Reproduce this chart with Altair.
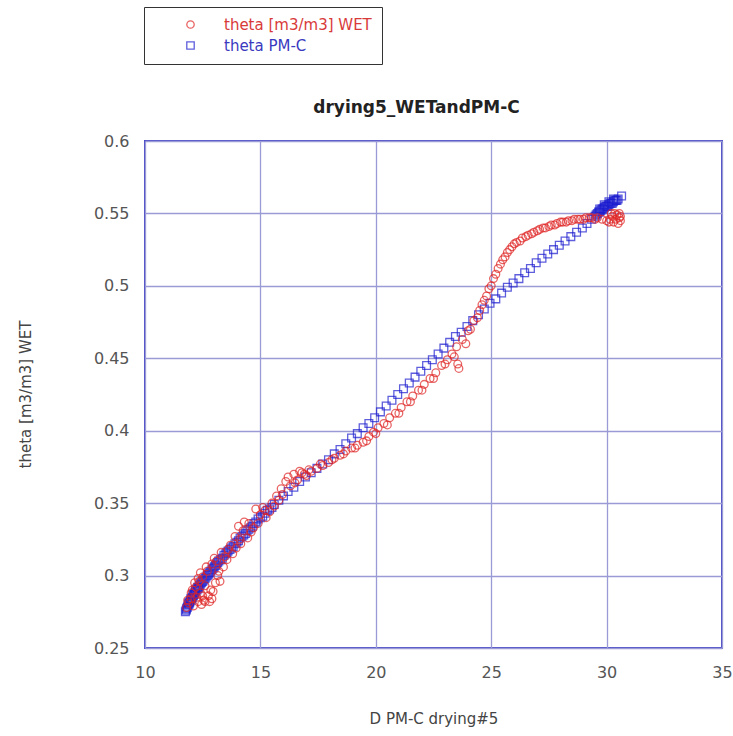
import altair as alt
import pandas as pd

series_names = ["theta [m3/m3] WET", "theta PM-C"]
x_ticks = [10, 15, 20, 25, 30, 35]
y_ticks = [0.25, 0.3, 0.35, 0.4, 0.45, 0.5, 0.55, 0.6]

# theta [m3/m3] WET (red circles)
wet_x = [11.8, 11.9, 12.0, 12.05, 12.1, 12.2, 12.25, 12.3, 12.35, 12.4, 12.45, 12.5,
         12.55, 12.6, 12.7, 12.75, 12.8, 12.9, 12.95, 13.0, 13.05, 13.15, 13.3, 13.4,
         13.55, 13.7, 13.8, 13.95, 14.05, 14.15, 14.3, 14.45, 14.6, 14.8, 14.9, 15.1,
         15.25, 15.4, 15.6, 15.8, 15.95, 16.1, 16.3, 16.45, 16.6, 16.8, 17.0, 17.2,
         17.45, 17.7, 17.95, 18.2, 18.45, 18.7, 18.95, 19.2, 19.45, 19.7, 19.9, 20.1,
         20.35, 20.6, 20.85, 21.1, 21.35, 21.6, 21.85, 22.1, 22.35, 22.6, 22.85, 23.1,
         23.3, 23.55, 23.5, 23.75, 24.0, 24.25, 24.5, 24.7, 24.9, 25.1, 25.3, 25.5,
         25.7, 25.9, 26.1, 26.35, 26.6, 26.85, 27.1, 27.35, 27.6, 27.85, 28.1, 28.35,
         28.6, 28.85, 29.1, 29.35, 29.6, 29.8, 30.0, 30.15, 30.25, 30.35, 30.45, 30.55,
         30.6, 30.5, 30.3,
         11.85, 12.0, 12.15, 12.3, 12.4, 12.5, 12.6, 12.65, 12.85, 12.9, 13.1, 13.2,
         13.25, 13.45, 13.6, 13.9, 14.1, 14.25, 14.5, 14.7, 15.0, 15.2, 15.5, 15.7,
         15.9, 16.2, 16.5, 16.7, 16.9, 17.1, 17.6, 18.1, 18.6, 19.1, 19.6, 20.0,
         20.5, 21.0, 21.5, 22.0, 22.5, 23.0, 23.4, 23.6, 23.9, 24.1, 24.4, 24.6,
         24.8, 25.0, 25.2, 25.4, 25.6, 25.8, 26.0, 26.25, 26.5, 26.75, 27.0, 27.25,
         27.5, 27.75, 28.0, 28.25, 28.5, 28.75, 29.0, 29.25, 29.5, 30.1, 30.2, 30.4,
         30.55, 30.6]
wet_y = [0.278, 0.281, 0.284, 0.290, 0.279, 0.292, 0.285, 0.282, 0.296, 0.288, 0.280, 0.299,
         0.283, 0.293, 0.303, 0.286, 0.282, 0.308, 0.289, 0.312, 0.295, 0.300, 0.316, 0.306,
         0.311, 0.321, 0.315, 0.319, 0.334, 0.322, 0.337, 0.326, 0.330, 0.346, 0.336, 0.347,
         0.340, 0.344, 0.348, 0.352, 0.356, 0.365, 0.362, 0.370, 0.366, 0.371, 0.369, 0.372,
         0.374, 0.376, 0.378, 0.381, 0.383, 0.386, 0.388, 0.390, 0.392, 0.396, 0.399, 0.402,
         0.405, 0.409, 0.412, 0.416, 0.420, 0.424, 0.428, 0.432, 0.436, 0.440, 0.445, 0.449,
         0.453, 0.446, 0.458, 0.463, 0.469, 0.476, 0.483, 0.490, 0.498, 0.505, 0.512, 0.518,
         0.523, 0.527, 0.530, 0.533, 0.535, 0.537, 0.539, 0.540, 0.542, 0.543, 0.544, 0.545,
         0.546, 0.546, 0.547, 0.547, 0.547, 0.546, 0.545, 0.546, 0.548, 0.550, 0.549, 0.547,
         0.545, 0.543, 0.544,
         0.283, 0.288, 0.295, 0.298, 0.302, 0.286, 0.282, 0.306, 0.290, 0.284, 0.310, 0.303,
         0.296, 0.313, 0.318, 0.327, 0.325, 0.331, 0.336, 0.333, 0.342, 0.345, 0.350, 0.355,
         0.360, 0.368, 0.364, 0.372, 0.370, 0.373, 0.377, 0.380, 0.384, 0.388, 0.393, 0.398,
         0.404, 0.412, 0.420, 0.428, 0.436, 0.446, 0.451, 0.443, 0.460, 0.470, 0.478, 0.487,
         0.493, 0.500, 0.508, 0.515, 0.520, 0.525, 0.529, 0.531, 0.534, 0.536, 0.538, 0.540,
         0.541, 0.542, 0.544, 0.544, 0.545, 0.546, 0.546, 0.547, 0.546, 0.544, 0.550, 0.546,
         0.550, 0.548]

# theta PM-C (blue squares)
pmc_x = [11.75, 11.8, 11.85, 11.9, 11.95, 12.0, 12.05, 12.1, 12.15, 12.2, 12.3, 12.35,
         12.4, 12.5, 12.6, 12.7, 12.8, 12.9, 13.0, 13.1, 13.2, 13.35, 13.5, 13.6,
         13.75, 13.9, 14.05, 14.2, 14.35, 14.5, 14.65, 14.8, 15.0, 15.2, 15.4, 15.6,
         15.8, 16.0, 16.2, 16.45, 16.7, 16.95, 17.2, 17.45, 17.7, 17.95, 18.2, 18.45,
         18.7, 18.95, 19.2, 19.45, 19.7, 19.95, 20.2, 20.45, 20.7, 20.95, 21.2, 21.45,
         21.7, 21.95, 22.2, 22.45, 22.7, 22.95, 23.2, 23.45, 23.7, 23.95, 24.2, 24.45,
         24.7, 24.95, 25.2, 25.45, 25.7, 25.95, 26.2, 26.45, 26.7, 26.95, 27.2, 27.45,
         27.7, 27.95, 28.2, 28.45, 28.7, 28.95, 29.15, 29.35, 29.5, 29.6, 29.7, 29.8,
         29.9, 30.0, 30.1, 30.2, 30.3, 30.4, 30.5, 30.65,
         11.78, 11.83, 11.88, 11.93, 11.98, 12.03, 12.08, 12.13, 12.18, 12.25, 12.28, 12.33,
         12.45, 12.55, 12.65, 12.75, 12.85, 12.95, 13.05, 13.15, 13.28, 13.42, 13.55, 13.68,
         13.82, 13.98, 14.12, 14.28, 14.42, 14.58, 14.72, 14.9, 15.1, 15.3, 15.5,
         29.55, 29.65, 29.75, 29.85, 29.95, 30.05, 30.15, 30.25, 30.35, 30.45, 29.7, 29.9,
         30.1, 30.3]
pmc_y = [0.275, 0.277, 0.279, 0.280, 0.282, 0.283, 0.285, 0.286, 0.288, 0.289, 0.291, 0.293,
         0.294, 0.296, 0.298, 0.300, 0.302, 0.304, 0.306, 0.308, 0.310, 0.312, 0.315, 0.317,
         0.319, 0.322, 0.324, 0.327, 0.329, 0.332, 0.334, 0.337, 0.340, 0.343, 0.346, 0.349,
         0.352, 0.355, 0.358, 0.361, 0.365, 0.368, 0.371, 0.374, 0.377, 0.380, 0.384, 0.387,
         0.391, 0.395, 0.398, 0.402, 0.405, 0.409, 0.413, 0.417, 0.421, 0.425, 0.429, 0.433,
         0.437, 0.441, 0.445, 0.449, 0.453, 0.457, 0.461, 0.465, 0.468, 0.472, 0.476, 0.480,
         0.484, 0.488, 0.491, 0.495, 0.499, 0.502, 0.505, 0.509, 0.512, 0.516, 0.519, 0.522,
         0.525, 0.528, 0.531, 0.534, 0.537, 0.540, 0.543, 0.546, 0.548, 0.550, 0.551, 0.553,
         0.554, 0.555, 0.556, 0.557, 0.558, 0.559, 0.560, 0.562,
         0.276, 0.278, 0.281, 0.281, 0.284, 0.284, 0.287, 0.287, 0.290, 0.290, 0.292, 0.292,
         0.295, 0.297, 0.299, 0.301, 0.303, 0.305, 0.307, 0.309, 0.311, 0.314, 0.316, 0.318,
         0.320, 0.323, 0.326, 0.328, 0.331, 0.333, 0.336, 0.339, 0.341, 0.345, 0.347,
         0.549, 0.551, 0.552, 0.553, 0.555, 0.555, 0.557, 0.557, 0.559, 0.559, 0.553, 0.556,
         0.558, 0.560]

df = pd.concat([
    pd.DataFrame({"x": wet_x, "y": wet_y, "series": series_names[0]}),
    pd.DataFrame({"x": pmc_x, "y": pmc_y, "series": series_names[1]}),
], ignore_index=True)

FONT = "DejaVu Sans"
GRID = "#9a9ad6"
FRAME = "#4b4bc8"

legend = alt.Legend(
    title=None,
    orient="none",
    legendX=-1,
    legendY=-134,
    direction="vertical",
    strokeColor="#333333",
    fillColor="white",
    padding=10,
    symbolOffset=29,
    labelOffset=26,
    labelFont=FONT,
    labelFontSize=15,
    labelLimit=400,
    rowPadding=5,
    symbolSize=55,
    symbolStrokeWidth=1.3,
    symbolFillColor="transparent",
    labelColor=alt.ExprRef("datum.value === 'theta PM-C' ? '#3a3ac0' : '#d83a3a'"),
)

chart = alt.Chart(df).mark_point(filled=False, size=60, strokeWidth=1.3).encode(
    x=alt.X("x:Q",
            scale=alt.Scale(domain=[10, 35], nice=False, zero=False),
            axis=alt.Axis(values=x_ticks, title="D PM-C drying#5", grid=True,
                          labelPadding=16, labelFlush=False,
                          titleY=75, titleBaseline="alphabetic")),
    y=alt.Y("y:Q",
            scale=alt.Scale(domain=[0.25, 0.6], nice=False, zero=False),
            axis=alt.Axis(values=y_ticks, format="~g", title="theta [m3/m3] WET",
                          grid=True, labelPadding=16, labelFlush=False,
                          titleX=-112, titleY=253)),
    color=alt.Color("series:N", scale=alt.Scale(domain=series_names, range=["#e02424", "#1c1cd0"]),
                    legend=legend),
    shape=alt.Shape("series:N", scale=alt.Scale(domain=series_names, range=["circle", "square"]),
                    legend=legend),
    order=alt.Order("series:N"),
).properties(
    width=577,
    height=507,
    background="white",
    title=alt.TitleParams("drying5_WETandPM-C", font=FONT, fontSize=17, fontWeight="bold",
                          color="#222222", anchor="middle", frame="group", offset=-110, dx=-17),
    padding={"left": 145, "top": 141, "right": 11, "bottom": 88},
    autosize=alt.AutoSizeParams(type="none"),
).configure_view(
    stroke=FRAME, strokeWidth=2, fill="white"
).configure_axis(
    domain=False, ticks=False, gridColor=GRID, gridWidth=1.3, gridOpacity=1,
    labelFont=FONT, labelFontSize=16, labelColor="#555555",
    titleFont=FONT, titleFontSize=15, titleColor="#444444", titleFontWeight="normal",
)

chart.save("out.html", embed_options={"renderer": "svg", "actions": False})
